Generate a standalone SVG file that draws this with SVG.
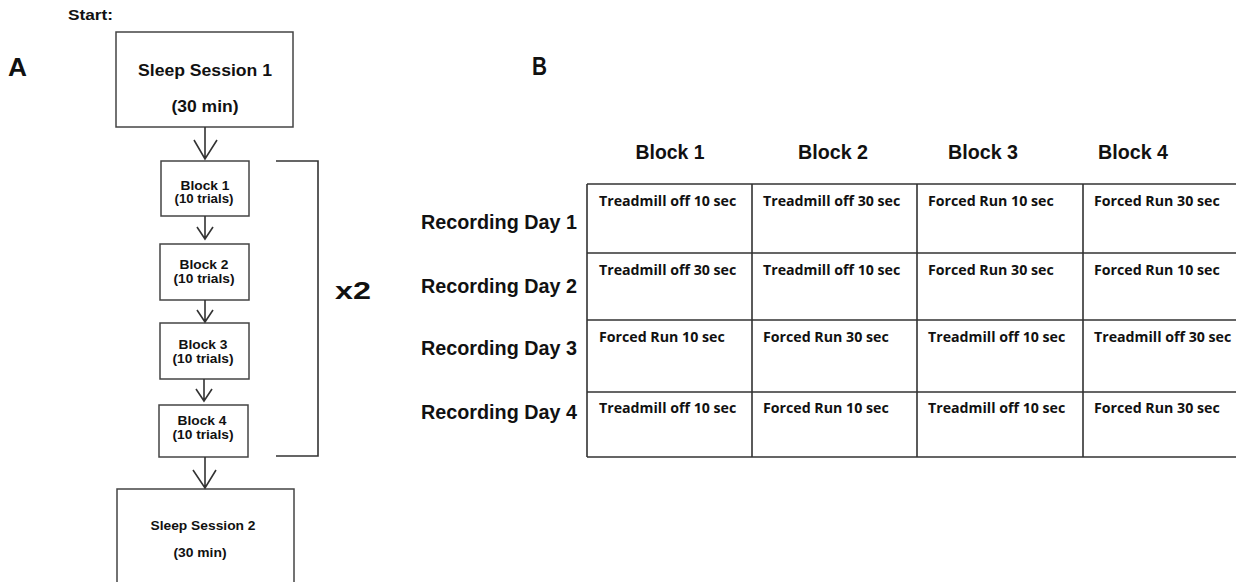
<svg xmlns="http://www.w3.org/2000/svg" width="1236" height="582" viewBox="0 0 1236 582">
<style>
.b{font-family:"Liberation Sans",Arial,sans-serif;font-weight:bold;fill:#111}
.box{fill:#fff;stroke:#444;stroke-width:1.5}
.ln{fill:none;stroke:#333;stroke-width:1.6}
.cell{font-family:"Open Sans","Liberation Sans",sans-serif;font-weight:bold;font-size:14.2px;fill:#111}
.grid{stroke:#333;stroke-width:1.6;fill:none}
</style>
<rect width="1236" height="582" fill="#fff"/>
<text class="b" x="68" y="20" font-size="14" textLength="45" lengthAdjust="spacingAndGlyphs">Start:</text>
<text class="b" x="8" y="76" font-size="25" textLength="19" lengthAdjust="spacingAndGlyphs">A</text>
<text class="b" x="532" y="75" font-size="25" textLength="15" lengthAdjust="spacingAndGlyphs">B</text>

<g id="sleep1">
<rect class="box" x="116" y="32" width="177" height="95"/>
<text class="b" x="205" y="76" font-size="16" text-anchor="middle" textLength="134" lengthAdjust="spacingAndGlyphs">Sleep Session 1</text>
<text class="b" x="205" y="112" font-size="16" text-anchor="middle" textLength="67" lengthAdjust="spacingAndGlyphs">(30 min)</text>
</g>
<g id="block1">
<rect class="box" x="161" y="161" width="88" height="55"/>
<text class="b" x="205" y="190" font-size="12.5" text-anchor="middle" textLength="49" lengthAdjust="spacingAndGlyphs">Block 1</text>
<text class="b" x="204" y="203" font-size="12.5" text-anchor="middle" textLength="59" lengthAdjust="spacingAndGlyphs">(10 trials)</text>
</g>
<g id="block2">
<rect class="box" x="160" y="244" width="89" height="56"/>
<text class="b" x="204" y="269" font-size="12.5" text-anchor="middle" textLength="49" lengthAdjust="spacingAndGlyphs">Block 2</text>
<text class="b" x="204" y="283" font-size="12.5" text-anchor="middle" textLength="61" lengthAdjust="spacingAndGlyphs">(10 trials)</text>
</g>
<g id="block3">
<rect class="box" x="160" y="323" width="89" height="56"/>
<text class="b" x="203" y="349" font-size="12.5" text-anchor="middle" textLength="49" lengthAdjust="spacingAndGlyphs">Block 3</text>
<text class="b" x="203" y="363" font-size="12.5" text-anchor="middle" textLength="61" lengthAdjust="spacingAndGlyphs">(10 trials)</text>
</g>
<g id="block4">
<rect class="box" x="159" y="405" width="89" height="52"/>
<text class="b" x="202" y="425" font-size="12.5" text-anchor="middle" textLength="49" lengthAdjust="spacingAndGlyphs">Block 4</text>
<text class="b" x="203" y="439" font-size="12.5" text-anchor="middle" textLength="61" lengthAdjust="spacingAndGlyphs">(10 trials)</text>
</g>
<g id="sleep2">
<rect class="box" x="117" y="489" width="177" height="100"/>
<text class="b" x="203" y="530" font-size="13" text-anchor="middle" textLength="105" lengthAdjust="spacingAndGlyphs">Sleep Session 2</text>
<text class="b" x="200" y="557" font-size="13" text-anchor="middle" textLength="53" lengthAdjust="spacingAndGlyphs">(30 min)</text>
</g>
<g id="repeat">
<path class="ln" d="M276 161 H318 V456 H276" stroke-width="2"/>
<text class="b" x="335" y="299" font-size="23" textLength="36" lengthAdjust="spacingAndGlyphs">x2</text>
</g>

<g id="connectors" class="ln">
<path d="M205 127 V159 M194 140 L205 159 L217 140"/>
<path d="M205 216 V239 M197 227 L205 239 L213 227"/>
<path d="M205 300 V322 M197 310 L205 322 L213 310"/>
<path d="M204 379 V401 M196 389 L204 401 L212 389"/>
<path d="M205 457 V488 M193 470 L205 488 L216 470"/>
</g>

<g id="table">
<text class="b" x="670" y="159" font-size="20.5" text-anchor="middle" textLength="69" lengthAdjust="spacingAndGlyphs">Block 1</text>
<text class="b" x="833" y="159" font-size="20.5" text-anchor="middle" textLength="70" lengthAdjust="spacingAndGlyphs">Block 2</text>
<text class="b" x="983" y="159" font-size="20.5" text-anchor="middle" textLength="70" lengthAdjust="spacingAndGlyphs">Block 3</text>
<text class="b" x="1133" y="159" font-size="20.5" text-anchor="middle" textLength="70" lengthAdjust="spacingAndGlyphs">Block 4</text>
<text class="b" x="577" y="229" font-size="20.5" text-anchor="end" textLength="156" lengthAdjust="spacingAndGlyphs">Recording Day 1</text>
<text class="b" x="577" y="293" font-size="20.5" text-anchor="end" textLength="156" lengthAdjust="spacingAndGlyphs">Recording Day 2</text>
<text class="b" x="577" y="355" font-size="20.5" text-anchor="end" textLength="156" lengthAdjust="spacingAndGlyphs">Recording Day 3</text>
<text class="b" x="577" y="419" font-size="20.5" text-anchor="end" textLength="156" lengthAdjust="spacingAndGlyphs">Recording Day 4</text>
<path class="grid" d="M587 184 H1240 M587 253 H1240 M587 320 H1240 M587 392 H1240 M587 457 H1240 M587 184 V457 M752 184 V457 M917 184 V457 M1083 184 V457"/>
<g class="cell">
<text x="599" y="206">Treadmill off 10 sec</text>
<text x="763" y="206">Treadmill off 30 sec</text>
<text x="928" y="206">Forced Run 10 sec</text>
<text x="1094" y="206">Forced Run 30 sec</text>
<text x="599" y="275">Treadmill off 30 sec</text>
<text x="763" y="275">Treadmill off 10 sec</text>
<text x="928" y="275">Forced Run 30 sec</text>
<text x="1094" y="275">Forced Run 10 sec</text>
<text x="599" y="342">Forced Run 10 sec</text>
<text x="763" y="342">Forced Run 30 sec</text>
<text x="928" y="342">Treadmill off 10 sec</text>
<text x="1094" y="342">Treadmill off 30 sec</text>
<text x="599" y="413">Treadmill off 10 sec</text>
<text x="763" y="413">Forced Run 10 sec</text>
<text x="928" y="413">Treadmill off 10 sec</text>
<text x="1094" y="413">Forced Run 30 sec</text>
</g>
</g>
</svg>
